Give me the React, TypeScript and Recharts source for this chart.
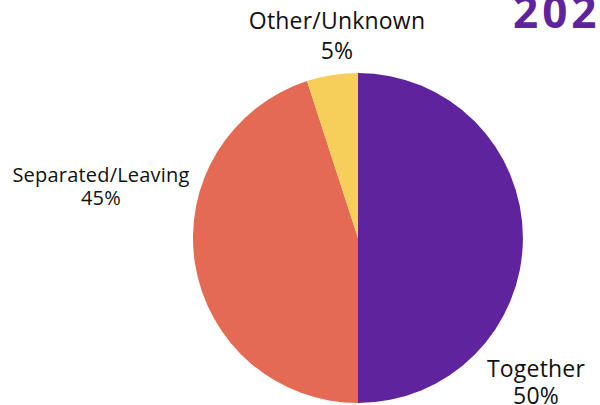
import React from "react";
import { PieChart, Pie, Cell } from "recharts";

const categories = ["Together", "Separated/Leaving", "Other/Unknown"];
const values = [50, 45, 5];
const percentLabels = ["50%", "45%", "5%"];
const colors = ["#5E239D", "#E46A54", "#F5CF5A"];
const titleText = "2024";

const data = categories.map((name, i) => ({ name, value: values[i] }));

// label placement offsets relative to pie centre (text styling only)
const labelOffsets = [
  { dx: 178, dy: 139, size: 23, gap: 27, ls: 0.2 },
  { dx: -257, dy: -56, size: 20, gap: 23, ls: 0.2 },
  { dx: -21, dy: -209, size: 23, gap: 30, ls: 0.2 },
];

const FONT = "'Open Sans', sans-serif";

const renderLabel = (props: any) => {
  const { cx, cy, index } = props;
  const o = labelOffsets[index];
  const x = cx + o.dx;
  const y = cy + o.dy;
  return (
    <text x={x} y={y} textAnchor="middle" fill="#111" fontFamily={FONT} fontSize={o.size} letterSpacing={o.ls}>
      <tspan x={x} dy={0}>{categories[index]}</tspan>
      <tspan x={x} dy={o.gap}>{percentLabels[index]}</tspan>
    </text>
  );
};

export default function App() {
  return (
    <div style={{ position: "absolute", left: 0, top: 0, width: 600, height: 405, background: "#fff", overflow: "hidden" }}>
      <PieChart width={600} height={405} margin={{ top: 0, right: 0, bottom: 0, left: 0 }}>
        <Pie
          data={data}
          dataKey="value"
          nameKey="name"
          cx={358}
          cy={238}
          outerRadius={165}
          startAngle={90}
          endAngle={-270}
          stroke="none"
          label={renderLabel}
          labelLine={false}
          isAnimationActive={false}
        >
          {data.map((d, i) => (
            <Cell key={d.name} fill={colors[i]} />
          ))}
        </Pie>
        <text x={513} y={28} fill="#5E239D" fontFamily={FONT} fontWeight={700} fontSize={44} letterSpacing={4}>
          {titleText}
        </text>
      </PieChart>
    </div>
  );
}
